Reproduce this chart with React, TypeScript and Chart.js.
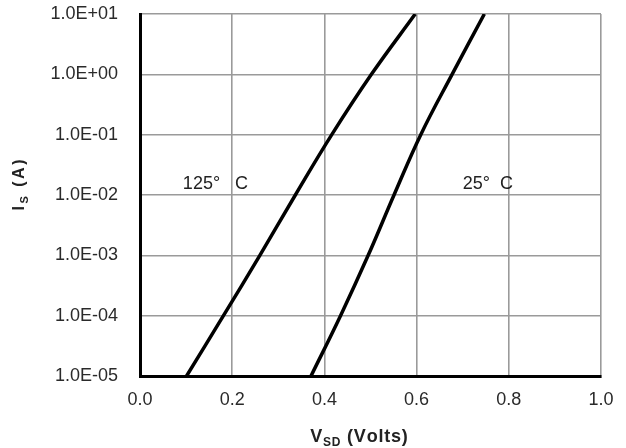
import React, { useEffect, useRef } from "react";
import { Chart, registerables } from "chart.js";

Chart.register(...registerables);

// ---- data ----
const xTicks = [0, 0.2, 0.4, 0.6, 0.8, 1.0];
const xTickLabels = ["0.0", "0.2", "0.4", "0.6", "0.8", "1.0"];
const yTicks = [1e-5, 1e-4, 1e-3, 1e-2, 1e-1, 1, 10];
const yTickLabels = ["1.0E-05", "1.0E-04", "1.0E-03", "1.0E-02", "1.0E-01", "1.0E+00", "1.0E+01"];

// source current (A) at which each curve's voltage was read
const current = [1e-5, 1e-4, 1e-3, 1e-2, 1e-1, 1, 10];
// forward voltage (V) for Tj = 125 °C
const vsd125 = [0.101, 0.181, 0.26, 0.337, 0.416, 0.502, 0.597];
// forward voltage (V) for Tj = 25 °C
const vsd25 = [0.371, 0.435, 0.495, 0.551, 0.609, 0.677, 0.747];

const curveLabels = ["125°   C", "25°  C"];

const FONT = '"Liberation Sans", Arial, Helvetica, sans-serif';

function drawPieces(
  ctx: CanvasRenderingContext2D,
  pieces: { t: string; size: number; dy: number }[],
  cx: number,
  spacing: number
) {
  let total = 0;
  const widths = pieces.map((p) => {
    ctx.font = `bold ${p.size}px ${FONT}`;
    let w = 0;
    for (const ch of p.t) w += ctx.measureText(ch).width + spacing;
    total += w;
    return w;
  });
  total -= spacing;
  let x = cx - total / 2;
  pieces.forEach((p, i) => {
    ctx.font = `bold ${p.size}px ${FONT}`;
    let xx = x;
    for (const ch of p.t) {
      ctx.fillText(ch, xx, p.dy);
      xx += ctx.measureText(ch).width + spacing;
    }
    x += widths[i];
  });
}

const textPlugin = {
  id: "textPlugin",
  afterDraw(chart: any) {
    const { ctx, scales } = chart;
    const xs = scales.x;
    const ys = scales.y;
    ctx.save();
    // curve annotations
    ctx.fillStyle = "#222";
    ctx.font = `18px ${FONT}`;
    ctx.textAlign = "left";
    ctx.textBaseline = "middle";
    ctx.fillText(curveLabels[0], xs.getPixelForValue(0.093), ys.getPixelForValue(1.5e-2));
    ctx.fillText(curveLabels[1], xs.getPixelForValue(0.70), ys.getPixelForValue(1.5e-2));

    // x title
    ctx.textAlign = "left";
    ctx.textBaseline = "alphabetic";
    ctx.save();
    ctx.translate(0, 442);
    drawPieces(
      ctx,
      [
        { t: "V", size: 18, dy: 0 },
        { t: "SD", size: 12, dy: 4 },
        { t: " (Volts)", size: 18, dy: 0 },
      ],
      359,
      0.8
    );
    ctx.restore();

    // y title
    ctx.save();
    ctx.translate(24, 185);
    ctx.rotate(-Math.PI / 2);
    drawPieces(
      ctx,
      [
        { t: "I", size: 16, dy: 0 },
        { t: "S", size: 11, dy: 4 },
        { t: " (A)", size: 16, dy: 0 },
      ],
      0,
      2.5
    );
    ctx.restore();
    ctx.restore();
  },
};

export default function App() {
  const ref = useRef<HTMLCanvasElement>(null);
  useEffect(() => {
    if (!ref.current) return;
    const chart = new Chart(ref.current, {
      type: "line",
      data: {
        datasets: [
          {
            label: "125 C",
            data: vsd125.map((v, i) => ({ x: v, y: current[i] })),
            borderColor: "#000",
            borderWidth: 3.5,
            pointRadius: 0,
            tension: 0.4,
            fill: false,
          },
          {
            label: "25 C",
            data: vsd25.map((v, i) => ({ x: v, y: current[i] })),
            borderColor: "#000",
            borderWidth: 3.5,
            pointRadius: 0,
            tension: 0.4,
            fill: false,
          },
        ],
      },
      options: {
        animation: false,
        responsive: false,
        devicePixelRatio: 1,
        layout: { padding: { top: 14, right: 25, left: 0, bottom: 0 } },
        plugins: { legend: { display: false }, tooltip: { enabled: false } },
        scales: {
          x: {
            type: "linear",
            min: 0,
            max: 1,
            afterBuildTicks: (s: any) => {
              s.ticks = xTicks.map((value) => ({ value }));
            },
            afterFit: (s: any) => {
              s.height = 72;
              s.paddingLeft = 0;
              s.paddingRight = 0;
            },
            ticks: {
              callback: (_v: any, i: number) => xTickLabels[i],
              font: { family: FONT, size: 18 },
              color: "#2a2a2a",
              padding: 13,
              maxRotation: 0,
            },
            grid: {
              color: (c: any) => (c.index === 0 ? "rgba(0,0,0,0)" : "#9a9a9a"),
              lineWidth: 1.6,
              drawTicks: false,
            },
            border: { color: "#000", width: 3 },
          },
          y: {
            type: "logarithmic",
            min: 1e-5,
            max: 10,
            afterBuildTicks: (s: any) => {
              s.ticks = yTicks.map((value) => ({ value, major: true }));
            },
            afterFit: (s: any) => {
              s.width = 140;
              s.paddingTop = 0;
              s.paddingBottom = 0;
            },
            ticks: {
              callback: (_v: any, i: number) => yTickLabels[i],
              font: { family: FONT, size: 18 },
              color: "#2a2a2a",
              padding: 22,
              autoSkip: false,
            },
            grid: {
              color: (c: any) => (c.index === 0 ? "rgba(0,0,0,0)" : "#9a9a9a"),
              lineWidth: 1.6,
              drawTicks: false,
            },
            border: { color: "#000", width: 3 },
          },
        },
      },
      plugins: [textPlugin],
    });
    return () => chart.destroy();
  }, []);
  return (
    <div style={{ position: "absolute", left: 0, top: 0, width: 626, height: 448, background: "#fff" }}>
      <canvas ref={ref} width={626} height={448} style={{ width: 626, height: 448, display: "block" }} />
    </div>
  );
}
